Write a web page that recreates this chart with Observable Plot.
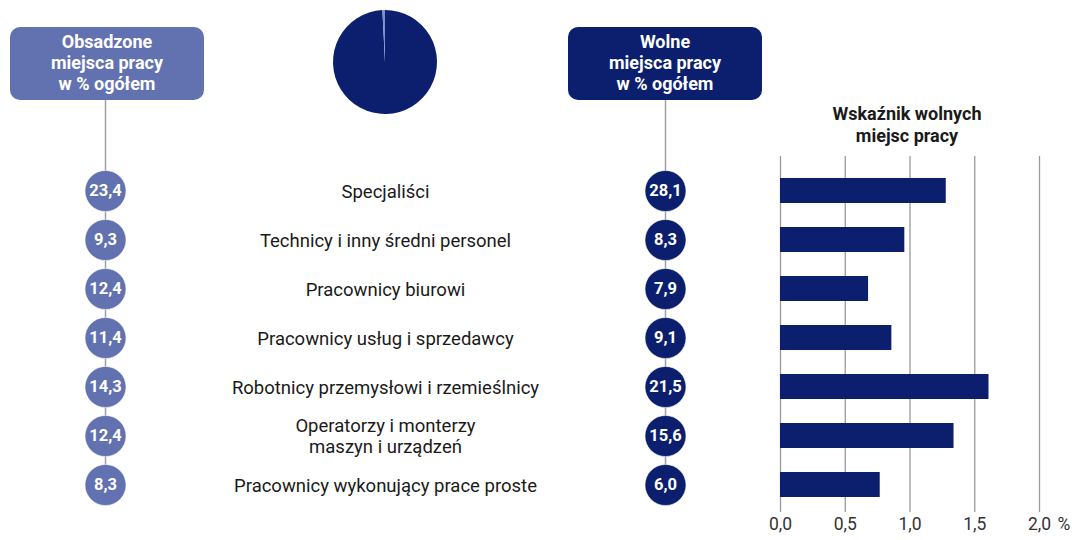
<!DOCTYPE html>
<html>
<head>
<meta charset="utf-8">
<script src="https://cdn.jsdelivr.net/npm/d3@7"></script>
<script src="https://cdn.jsdelivr.net/npm/@observablehq/plot@0.6"></script>
<style>
  html, body { margin: 0; padding: 0; background: #fff; }
  #wrap { position: relative; width: 1072px; height: 540px; font-family: Roboto, "Noto Sans", sans-serif; }
  #wrap svg { position: absolute; left: 0; top: 0; }
  .hdr { position: absolute; top: 27px; width: 194px; height: 73px; border-radius: 10px; color: #fff;
         font-weight: 700; font-size: 18px; line-height: 21px; text-align: center; box-sizing: border-box; padding-top: 4px; }
  .title { position: absolute; left: 807px; top: 103px; width: 200px; text-align: center; font-weight: 700;
           font-size: 18px; line-height: 22px; color: #1a1a1a; }
</style>
</head>
<body>
<div id="wrap">
  <div class="hdr" style="left:10px;background:#6272b0">Obsadzone<br>miejsca pracy<br>w % ogółem</div>
  <div class="hdr" style="left:568px;background:#0c1f6e">Wolne<br>miejsca pracy<br>w % ogółem</div>
  <div class="title">Wskaźnik wolnych<br>miejsc pracy</div>
</div>
<script>
const categories = [
  "Specjaliści",
  "Technicy i inny średni personel",
  "Pracownicy biurowi",
  "Pracownicy usług i sprzedawcy",
  "Robotnicy przemysłowi i rzemieślnicy",
  "Operatorzy i monterzy\nmaszyn i urządzeń",
  "Pracownicy wykonujący prace proste"
];
const occupiedShare = [23.4, 9.3, 12.4, 11.4, 14.3, 12.4, 8.3];
const vacantShare = [28.1, 8.3, 7.9, 9.1, 21.5, 15.6, 6.0];
const vacancyRate = [1.28, 0.96, 0.68, 0.86, 1.61, 1.34, 0.77];
const pieValues = [99.2, 0.8];
const rateTicks = [0, 0.5, 1, 1.5, 2];

const cOcc = "#6272b0", cVac = "#0c1f6e", cPieSlice = "#7d8fca";
const fmt = d3.format(".1f");
const pl = v => fmt(v).replace(".", ",");

const rows = categories.map((c, i) => ({cat: c, occ: occupiedShare[i], vac: vacantShare[i], rate: vacancyRate[i]}));
const yScale = {type: "band", domain: categories, range: [163, 511], padding: 0, axis: null};
const font = "Roboto, 'Noto Sans', sans-serif";

function pieMark() {
  const g = d3.create("svg:g").attr("transform", "translate(385,62)");
  const arcs = d3.pie().sort(null)(pieValues);
  const arc = d3.arc().innerRadius(0).outerRadius(52);
  g.selectAll("path").data(arcs).join("path")
    .attr("d", arc)
    .attr("fill", (d, i) => i === 0 ? cVac : cPieSlice);
  return g.node();
}

const left = Plot.plot({
  width: 1072, height: 540,
  marginTop: 100, marginBottom: 54, marginLeft: 0, marginRight: 0,
  style: {fontFamily: font, background: "transparent", overflow: "visible"},
  x: {type: "point", domain: ["occ", "name", "vac"], range: [104, 665], padding: 0, axis: null},
  y: yScale,
  marks: [
    Plot.ruleX(["occ", "vac"], {x: d => d, stroke: "#a0a0a0", strokeWidth: 1.5}),
    Plot.dot(rows, {x: () => "occ", y: "cat", r: 20.5, fill: cOcc, stroke: "#fff", strokeWidth: 0.5}),
    Plot.text(rows, {x: () => "occ", y: "cat", text: d => pl(d.occ), fill: "#fff", fontWeight: 700, fontSize: 16.5}),
    Plot.text(rows, {x: () => "name", y: "cat", text: "cat", fill: "#1a1a1a", fontSize: 18.5, lineHeight: 1.15}),
    Plot.dot(rows, {x: () => "vac", y: "cat", r: 20.5, fill: cVac, stroke: "#fff", strokeWidth: 0.5}),
    Plot.text(rows, {x: () => "vac", y: "cat", text: d => pl(d.vac), fill: "#fff", fontWeight: 700, fontSize: 16.5}),
    pieMark
  ]
});

const right = Plot.plot({
  width: 1072, height: 540,
  marginTop: 156, marginBottom: 28, marginLeft: 780, marginRight: 33,
  style: {fontFamily: font, background: "transparent", overflow: "visible"},
  x: {domain: [0, 2], axis: null},
  y: yScale,
  marks: [
    Plot.ruleX(rateTicks, {stroke: "#9a9a9a", strokeWidth: 1.3}),
    Plot.barX(rows, {x: "rate", y: "cat", fill: cVac, insetTop: 12, insetBottom: 12}),
    Plot.text(rateTicks, {x: d => d, text: d => pl(d), frameAnchor: "bottom", dy: 17, fontSize: 17.5, fill: "#333"}),
    Plot.text(["%"], {x: () => 2, text: d => d, frameAnchor: "bottom", dy: 17, dx: 18, textAnchor: "start", fontSize: 17.5, fill: "#333"})
  ]
});

const wrap = document.getElementById("wrap");
wrap.appendChild(left);
wrap.appendChild(right);
</script>
</body>
</html>
